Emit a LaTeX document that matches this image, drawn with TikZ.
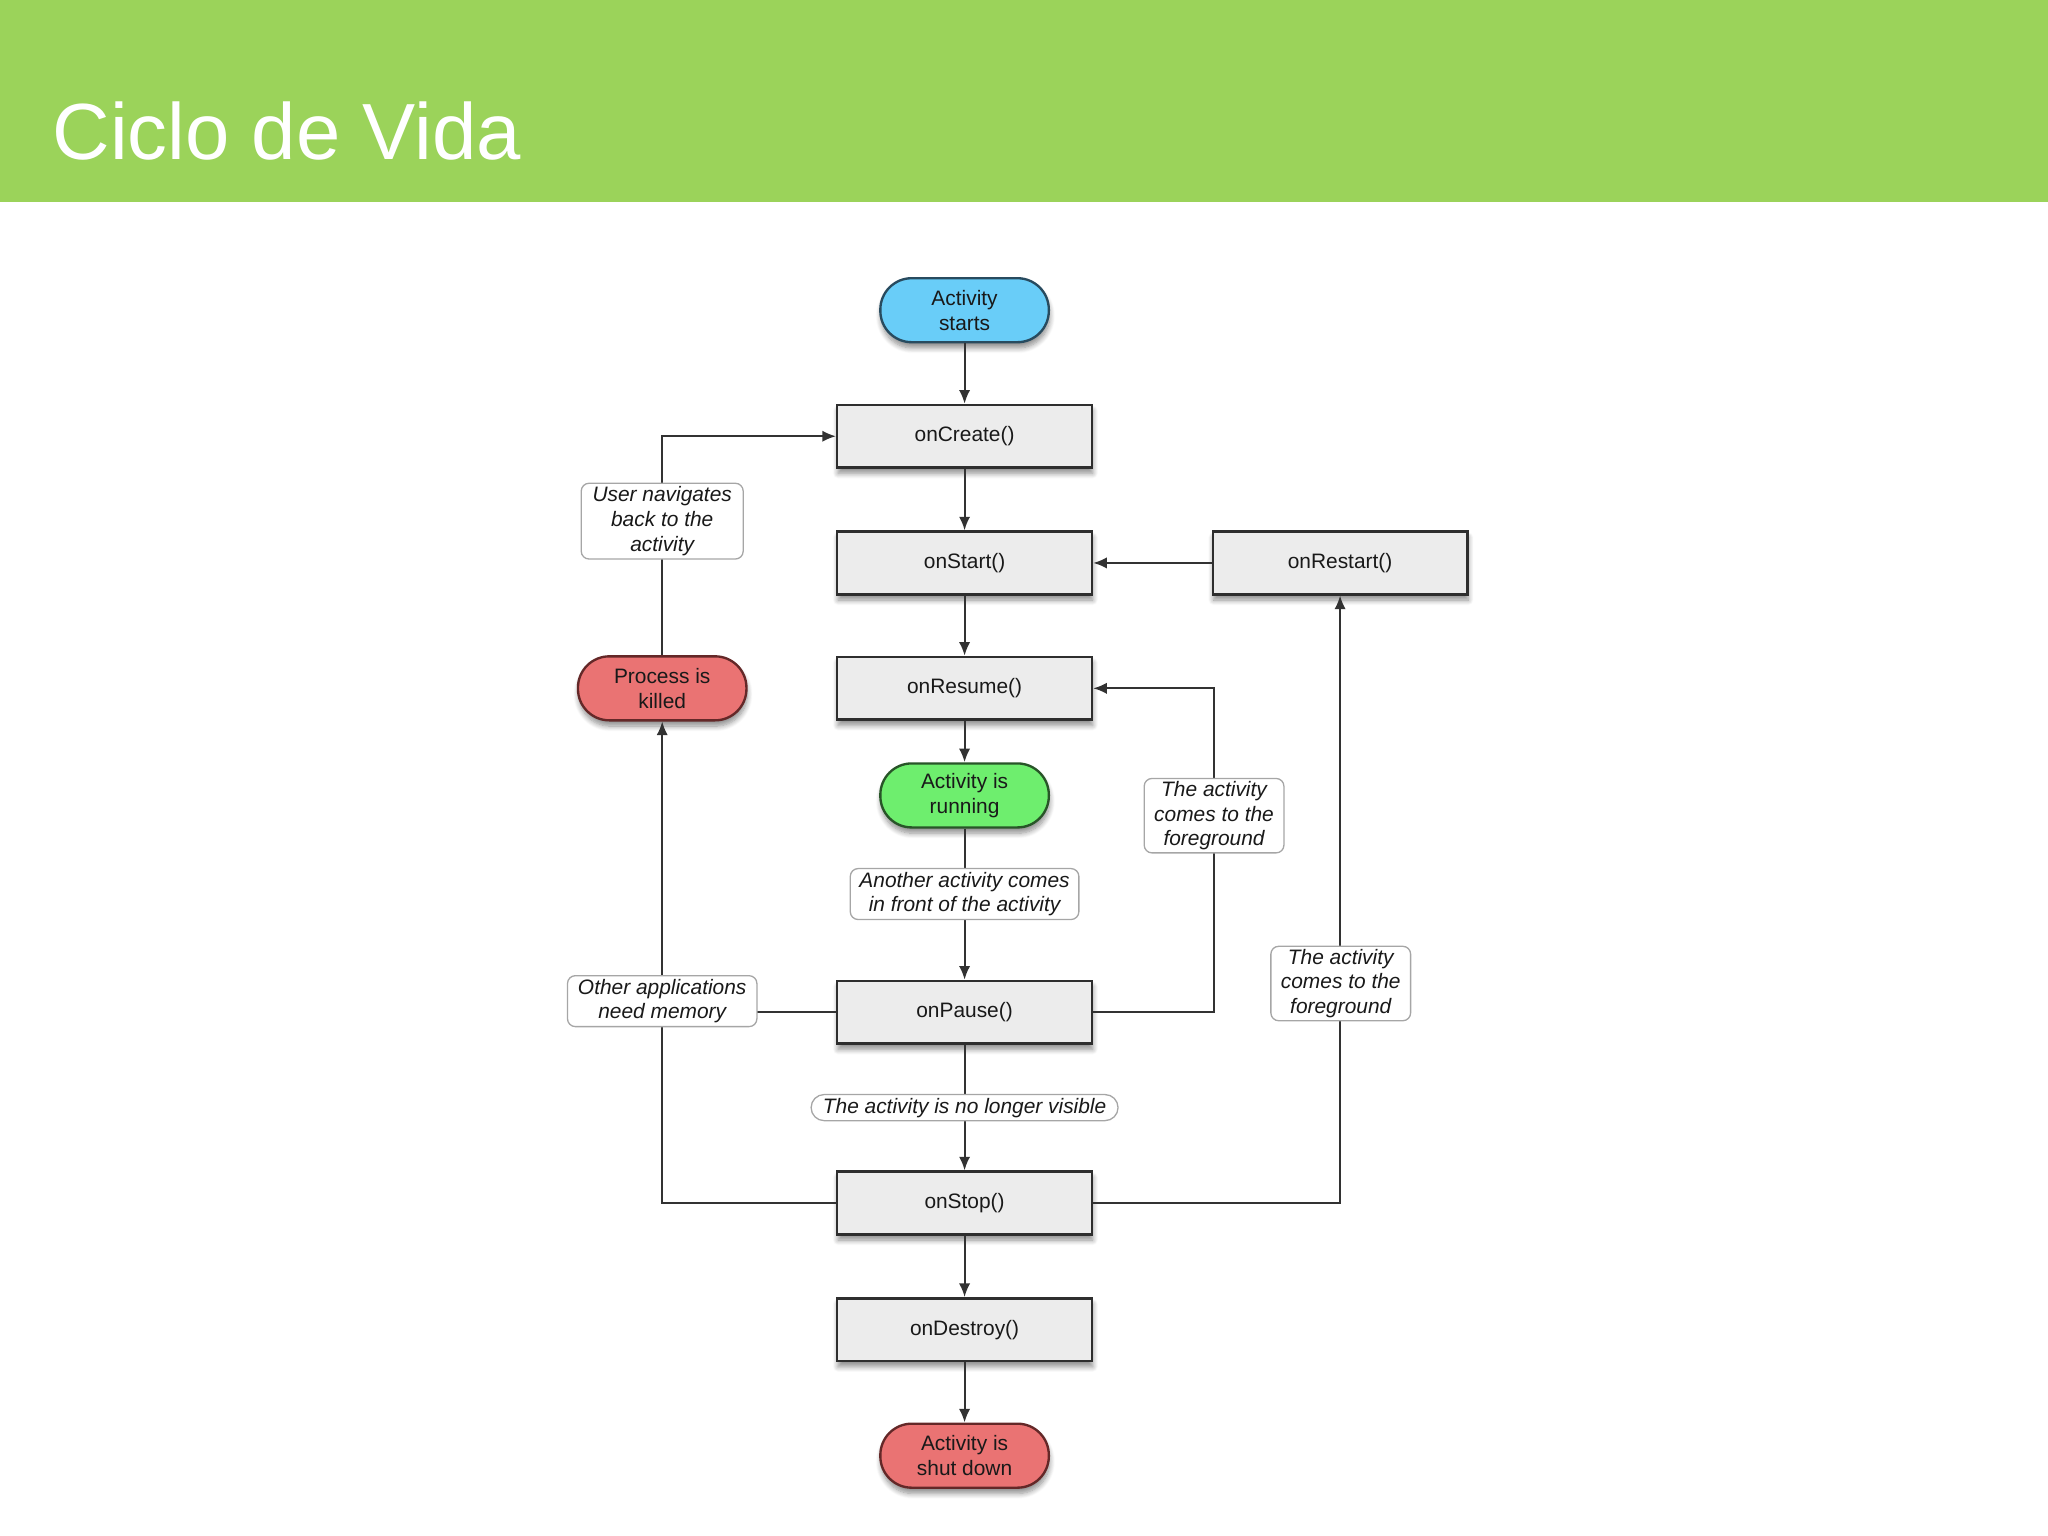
\documentclass[tikz,border=0pt]{standalone}
\usepackage{fontspec}
\setmainfont{Liberation Sans}
\usetikzlibrary{shadows.blur,arrows.meta}
\definecolor{hdr}{RGB}{155,211,90}
\definecolor{pblue}{RGB}{105,205,248}
\definecolor{pblueb}{RGB}{40,75,95}
\definecolor{pgreen}{RGB}{110,238,110}
\definecolor{pgreenb}{RGB}{40,85,40}
\definecolor{pred}{RGB}{234,115,115}
\definecolor{predb}{RGB}{100,40,40}
\definecolor{boxgray}{RGB}{236,236,236}
\definecolor{linec}{RGB}{50,50,50}
\pgfdeclarelayer{top}
\pgfsetlayers{main,top}
\begin{document}
\begin{tikzpicture}[x=0.5pt,y=-0.5pt,
  base/.style={font=\fontsize{8}{9.5}\selectfont, text=black!90, align=center, inner sep=0pt},
  shad/.style={blur shadow={shadow xshift=0.3pt, shadow yshift=-2.2pt, shadow blur radius=2pt, shadow blur steps=8, shadow opacity=45}},
  method/.style={base, shad, draw=black!82, line width=0.95pt, fill=boxgray, minimum width=97.5pt, minimum height=24pt},
  pill/.style={base, shad, line width=0.9pt, rounded corners=12pt, minimum width=64.5pt, minimum height=24.5pt},
  lbl/.style={base, font=\fontsize{8}{9.5}\selectfont\itshape, draw=black!35, line width=0.5pt, fill=white, rounded corners=3pt},
  arr/.style={draw=linec, line width=0.75pt, -{Latex[length=5.2pt,width=4.3pt]}},
  ln/.style={draw=linec, line width=0.75pt},
  titlestyle/.style={font=\fontsize{30.5}{36}\selectfont, text=white, inner sep=0pt}]
\useasboundingbox (0,0) rectangle (1568,1176);
\fill[hdr] (0,0) rectangle (1568,155);
\node[titlestyle, anchor=base west] (title) at (40,122) {Ciclo de Vida};

% main column
\node[pill, fill=pblue, draw=pblueb] (starts) at (738.5,237.5) {Activity\\starts};
\node[method] (create) at (738.5,334) {onCreate()};
\node[method] (start) at (738.5,431) {onStart()};
\node[method] (restart) at (1026,431) {onRestart()};
\node[method] (resume) at (738.5,527) {onResume()};
\node[pill, fill=pgreen, draw=pgreenb] (running) at (738.5,609) {Activity is\\running};
\node[method] (pause) at (738.5,775) {onPause()};
\node[method] (stop) at (738.5,921) {onStop()};
\node[method] (destroy) at (738.5,1018) {onDestroy()};
\node[pill, fill=pred, draw=predb] (shut) at (738.5,1114.5) {Activity is\\shut down};
\node[pill, fill=pred, draw=predb] (killed) at (507,527) {Process is\\killed};

% labels
\begin{pgfonlayer}{top}
\node[lbl, minimum width=62pt, minimum height=29pt] (user) at (507,399) {User navigates\\back to the\\activity};
\node[lbl, minimum width=72.5pt, minimum height=19.5pt] (other) at (507,766.5) {Other applications\\need memory};
\node[lbl, minimum width=53.5pt, minimum height=28.5pt] (fgA) at (929.5,624.5) {The activity\\comes to the\\foreground};
\node[lbl, minimum width=53.5pt, minimum height=28.5pt] (fgB) at (1026.5,753) {The activity\\comes to the\\foreground};
\node[lbl, minimum width=87.5pt, minimum height=19.5pt] (another) at (738.5,684.5) {Another activity comes\\in front of the activity};
\node[lbl, rounded corners=5pt, minimum width=117.5pt, minimum height=10pt] (visible) at (738.5,848) {The activity is no longer visible};
\end{pgfonlayer}

% connectors
\draw[arr] (starts) -- (create);
\draw[arr] (create) -- (start);
\draw[arr] (start) -- (resume);
\draw[arr] (resume) -- (running);
\draw[arr] (running) -- (pause);
\draw[arr] (pause) -- (stop);
\draw[arr] (stop) -- (destroy);
\draw[arr] (destroy) -- (shut);
\draw[arr] (restart) -- (start);
\draw[arr] (pause.east) -| (fgA.center) |- (resume.east);
\draw[arr] (stop.east) -| (restart.south);
\draw[ln] (stop.west) -| (other.center);
\draw[arr] (pause.west) -| (killed.south);
\draw[arr] (killed.north) |- (create.west);
\end{tikzpicture}
\end{document}
